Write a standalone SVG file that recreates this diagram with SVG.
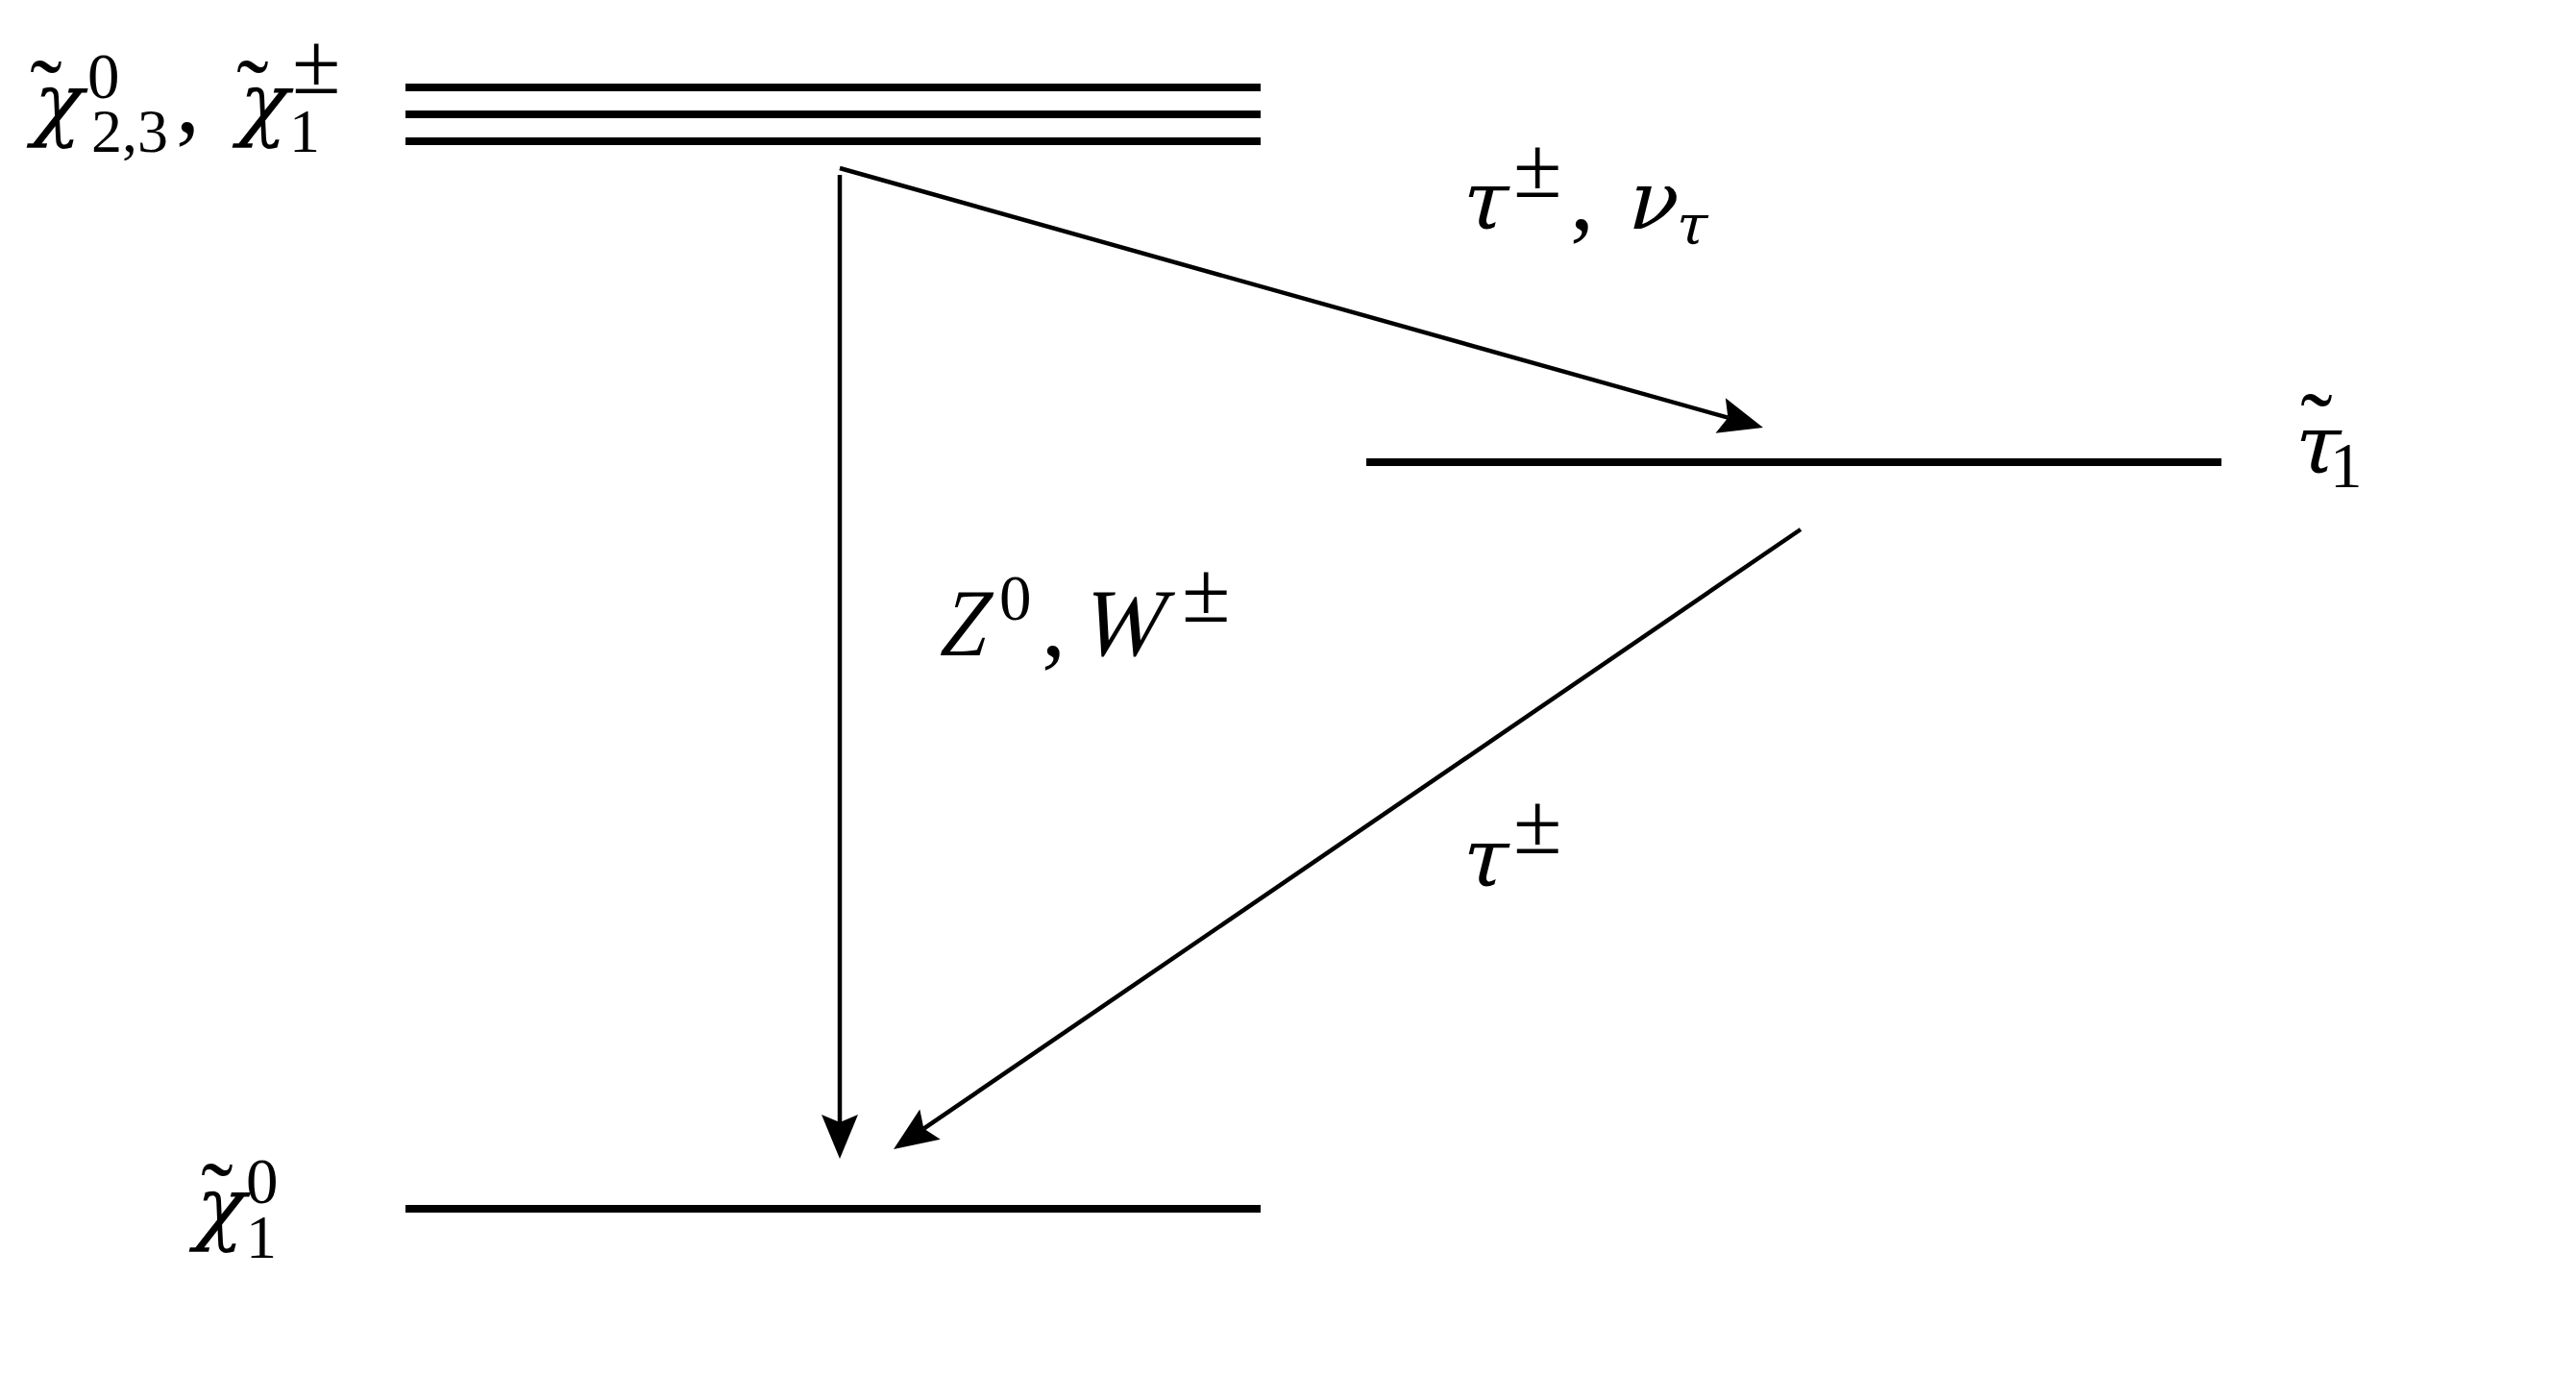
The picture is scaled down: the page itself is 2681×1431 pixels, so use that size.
<svg xmlns="http://www.w3.org/2000/svg" width="2681" height="1431" viewBox="0 0 2681 1431">
<style>
.lvl{stroke:#000;stroke-width:8;fill:none}
.con{stroke:#000;stroke-width:4.5;fill:none;marker-end:url(#ah)}
.m{font-family:"Liberation Serif","Times New Roman",serif;font-size:100px;fill:#000}
.g{font-family:"DejaVu Serif","Liberation Serif",serif;font-size:85px;fill:#000}
.gs{font-size:58px}
.s{font-size:67px}
.sb{font-size:64px}
.pm{font-size:92px}
.t{font-family:"Liberation Serif","Times New Roman",serif;font-size:100px;fill:#000;text-anchor:middle}
</style>
<defs>
<marker id="ah" markerUnits="userSpaceOnUse" viewBox="0 -20 50 40" markerWidth="50" markerHeight="40" refX="8" refY="0" orient="auto" overflow="visible">
<path d="M0,-19 L46,0 L0,19 L8,0 Z" fill="#000"/>
</marker>
</defs>
<rect width="2681" height="1431" fill="#fff"/>
<g id="node-chi23">
<line class="lvl" x1="422" y1="91" x2="1312" y2="91"/>
<line class="lvl" x1="422" y1="119" x2="1312" y2="119"/>
<line class="lvl" x1="422" y1="147" x2="1312" y2="147"/>
<text class="g" transform="translate(31,136) skewX(-14)">χ</text>
<text class="m"><tspan class="s" x="91" y="102">0</tspan><tspan class="sb" x="95" y="158">2,3</tspan><tspan x="183" y="137">,</tspan><tspan class="pm" x="304" y="97">±</tspan><tspan class="sb" x="301" y="158">1</tspan></text>
<text class="g" transform="translate(245,136) skewX(-14)">χ</text>
<text class="t" x="48" y="130">˜</text>
<text class="t" x="263" y="130">˜</text>
</g>
<g id="node-stau">
<line class="lvl" x1="1422" y1="481" x2="2312" y2="481"/>
<text class="g" transform="translate(2383,492) skewX(-14)">τ</text>
<text class="m"><tspan class="s" x="2425" y="507">1</tspan></text>
<text class="t" x="2411" y="477">˜</text>
</g>
<g id="node-chi1">
<line class="lvl" x1="422" y1="1258" x2="1312" y2="1258"/>
<text class="g" transform="translate(200,1285) skewX(-14)">χ</text>
<text class="m"><tspan class="s" x="256" y="1252">0</tspan><tspan class="sb" x="256" y="1309">1</tspan></text>
<text class="t" x="226" y="1278">˜</text>
</g>
<g id="connectors">
<path class="con" d="M874,175 L1798.4,434.7"/>
<path class="con" d="M874,182 L874,1168"/>
<path class="con" d="M1874,551 L961.4,1174.6"/>
</g>
<g id="labels">
<text class="g" transform="translate(1517,238) skewX(-14)">τ</text>
<text class="m"><tspan class="pm" x="1575" y="205">±</tspan><tspan x="1634" y="238">,</tspan></text>
<text class="g" transform="translate(1690,238) skewX(-14)">ν</text>
<text class="g gs" transform="translate(1741,254) skewX(-14)">τ</text>
<text class="m" transform="translate(975,682) skewX(-14) scale(0.82,1)">Z</text>
<text class="m"><tspan class="s" x="1040" y="645">0</tspan><tspan x="1084" y="682">,</tspan><tspan class="pm" x="1230" y="647">±</tspan></text>
<text class="m" transform="translate(1122,682) skewX(-14) scale(0.9,1)">W</text>
<text class="g" transform="translate(1517,922) skewX(-14)">τ</text>
<text class="m"><tspan class="pm" x="1575" y="888">±</tspan></text>
</g>
</svg>
